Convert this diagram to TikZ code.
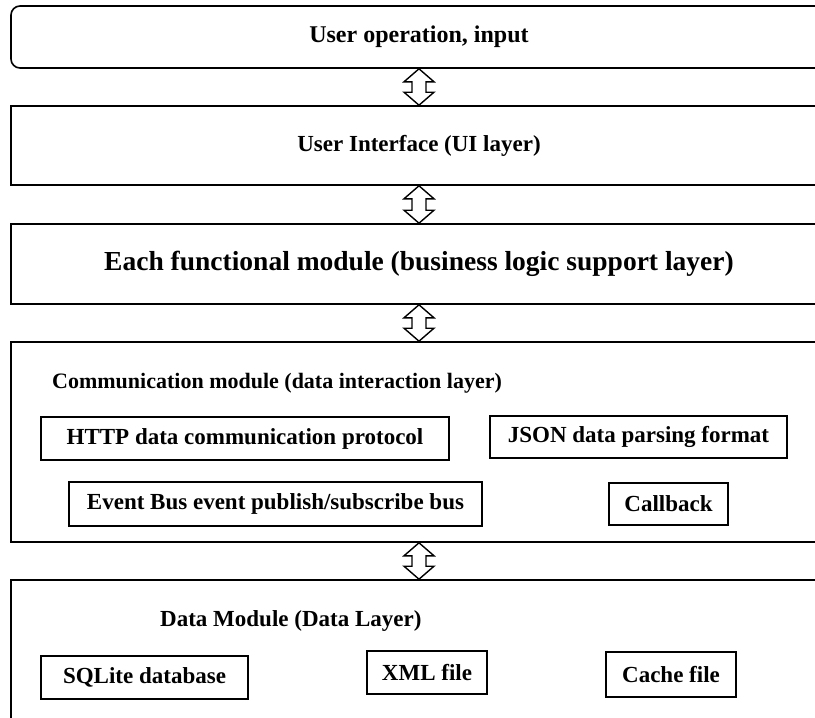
\documentclass[tikz,border=0pt]{standalone}
\usepackage{fontspec}
\setmainfont{Liberation Serif}
\usetikzlibrary{calc}

% double block arrow between two stacked layers
\newcommand{\updown}[2]{%
  \draw[dblarrow] (#1.south) -- ++(15,13) -- ++(-8,0) -- ($(#2.north)+(7,-13)$)
    -- ++(8,0) -- (#2.north) -- ++(-15,-13) -- ++(8,0)
    -- ($(#1.south)+(-7,13)$) -- ++(-8,0) -- cycle;}

\begin{document}
\begin{tikzpicture}[x=1pt, y=-1pt,
    every node/.style={font=\fontsize{23}{27}\selectfont\bfseries},
    layer/.style={draw, line width=1.6pt, minimum width=816pt, inner sep=0pt},
    module/.style={draw, line width=1.6pt, inner sep=0pt},
    title/.style={anchor=west, inner sep=0pt},
    dblarrow/.style={draw, line width=1.4pt, fill=white, line join=miter}]
    \clip (0,0) rectangle (815,718);

    % LAYERS
    \node[layer, rounded corners=9pt, minimum height=62pt, font=\fontsize{24}{28}\selectfont\bfseries] (input) at (419,37) {User operation, input};
    \node[layer, minimum height=79pt] (ui) at (419,145.5) {User Interface (UI layer)};
    \node[layer, minimum height=80pt, font=\fontsize{27.5}{32}\selectfont\bfseries] (logic) at (419,264) {Each functional module (business logic support layer)};
    \node[layer, minimum height=200pt] (comm) at (419,442) {};
    \node[layer, minimum height=180pt] (data) at (419,670) {};

    % COMMUNICATION MODULE
    \node[title, font=\fontsize{22}{26}\selectfont\bfseries] (commtitle) at (52,383) {Communication module (data interaction layer)};
    \node[module, minimum width=408pt, minimum height=43pt] (http) at (245,438.5) {HTTP data communication protocol};
    \node[module, minimum width=297pt, minimum height=42pt] (json) at (638.5,437) {JSON data parsing format};
    \node[module, minimum width=413pt, minimum height=44pt] (bus) at (275.5,504) {Event Bus event publish/subscribe bus};
    \node[module, minimum width=119pt, minimum height=42pt] (callback) at (668.5,504) {Callback};

    % DATA MODULE
    \node[title] (datatitle) at (160,621) {Data Module (Data Layer)};
    \node[module, minimum width=207pt, minimum height=43pt] (sqlite) at (144.5,677.5) {SQLite database};
    \node[module, minimum width=120pt, minimum height=43pt] (xml) at (427,672.5) {XML file};
    \node[module, minimum width=130pt, minimum height=45pt] (cache) at (671,674.5) {Cache file};

    % ARROWS
    \updown{input}{ui}
    \updown{ui}{logic}
    \updown{logic}{comm}
    \updown{comm}{data}
\end{tikzpicture}
\end{document}
